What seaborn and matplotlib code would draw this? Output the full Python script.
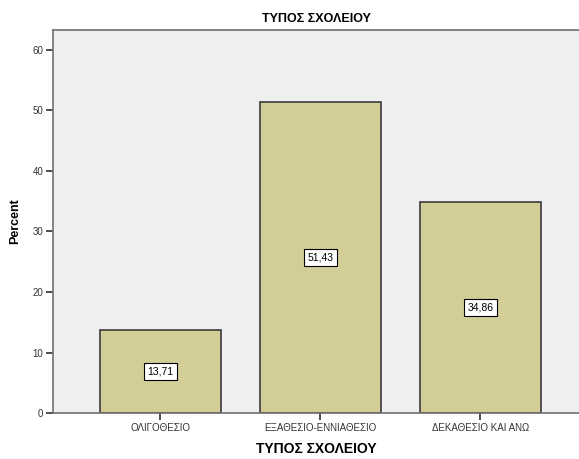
import matplotlib
matplotlib.use("Agg")
import matplotlib.pyplot as plt
import seaborn as sns
import pandas as pd

categories = ["ΟΛΙΓΟΘΕΣΙΟ", "ΕΞΑΘΕΣΙΟ-ΕΝΝΙΑΘΕΣΙΟ", "ΔΕΚΑΘΕΣΙΟ ΚΑΙ ΑΝΩ"]
percents = [13.71, 51.43, 34.86]
yticks = [0, 10, 20, 30, 40, 50, 60]

df = pd.DataFrame({"cat": categories, "pct": percents})

sns.set_style("white")
plt.rcParams["font.family"] = ["Liberation Sans", "DejaVu Sans"]
plt.rcParams["text.color"] = "black"
plt.rcParams["axes.labelcolor"] = "black"

fig = plt.figure(figsize=(5.79, 4.59), dpi=100)
ax = fig.add_axes([0.0915, 0.1002, 0.9085, 0.8344])
ax.set_facecolor("#EFEFEF")

sns.barplot(data=df, x="cat", y="pct", ax=ax, color="#D3CE97",
            saturation=1, width=0.756, edgecolor="#3C3C3C", linewidth=1.2)

for i, v in enumerate(percents):
    ax.text(i, v / 2, f"{v:.2f}".replace(".", ","), ha="center", va="center",
            fontsize=7.5, color="black",
            bbox=dict(boxstyle="square,pad=0.3", facecolor="white",
                      edgecolor="black", linewidth=0.8))

ax.set_xlim(-0.672, 2.616)
ax.set_ylim(0, 63.3)
ax.set_yticks(yticks)
ax.set_yticklabels([str(t) for t in yticks])

for side in ["left", "top", "bottom"]:
    ax.spines[side].set_visible(True)
    ax.spines[side].set_color("#707070")
    ax.spines[side].set_linewidth(1.2)
ax.spines["right"].set_visible(False)

ax.tick_params(axis="both", direction="out", length=5, width=1.2,
               color="#303030", labelsize=7, labelcolor="#333333", pad=2,
               left=True, bottom=True)

ax.set_xlabel("ΤΥΠΟΣ ΣΧΟΛΕΙΟΥ", fontsize=10, fontweight="bold", labelpad=7)
ax.set_ylabel("Percent", fontsize=9, fontweight="bold", labelpad=8)
ax.set_title("ΤΥΠΟΣ ΣΧΟΛΕΙΟΥ", fontsize=9, fontweight="bold", pad=6)

fig.savefig("out.png", dpi=100)
